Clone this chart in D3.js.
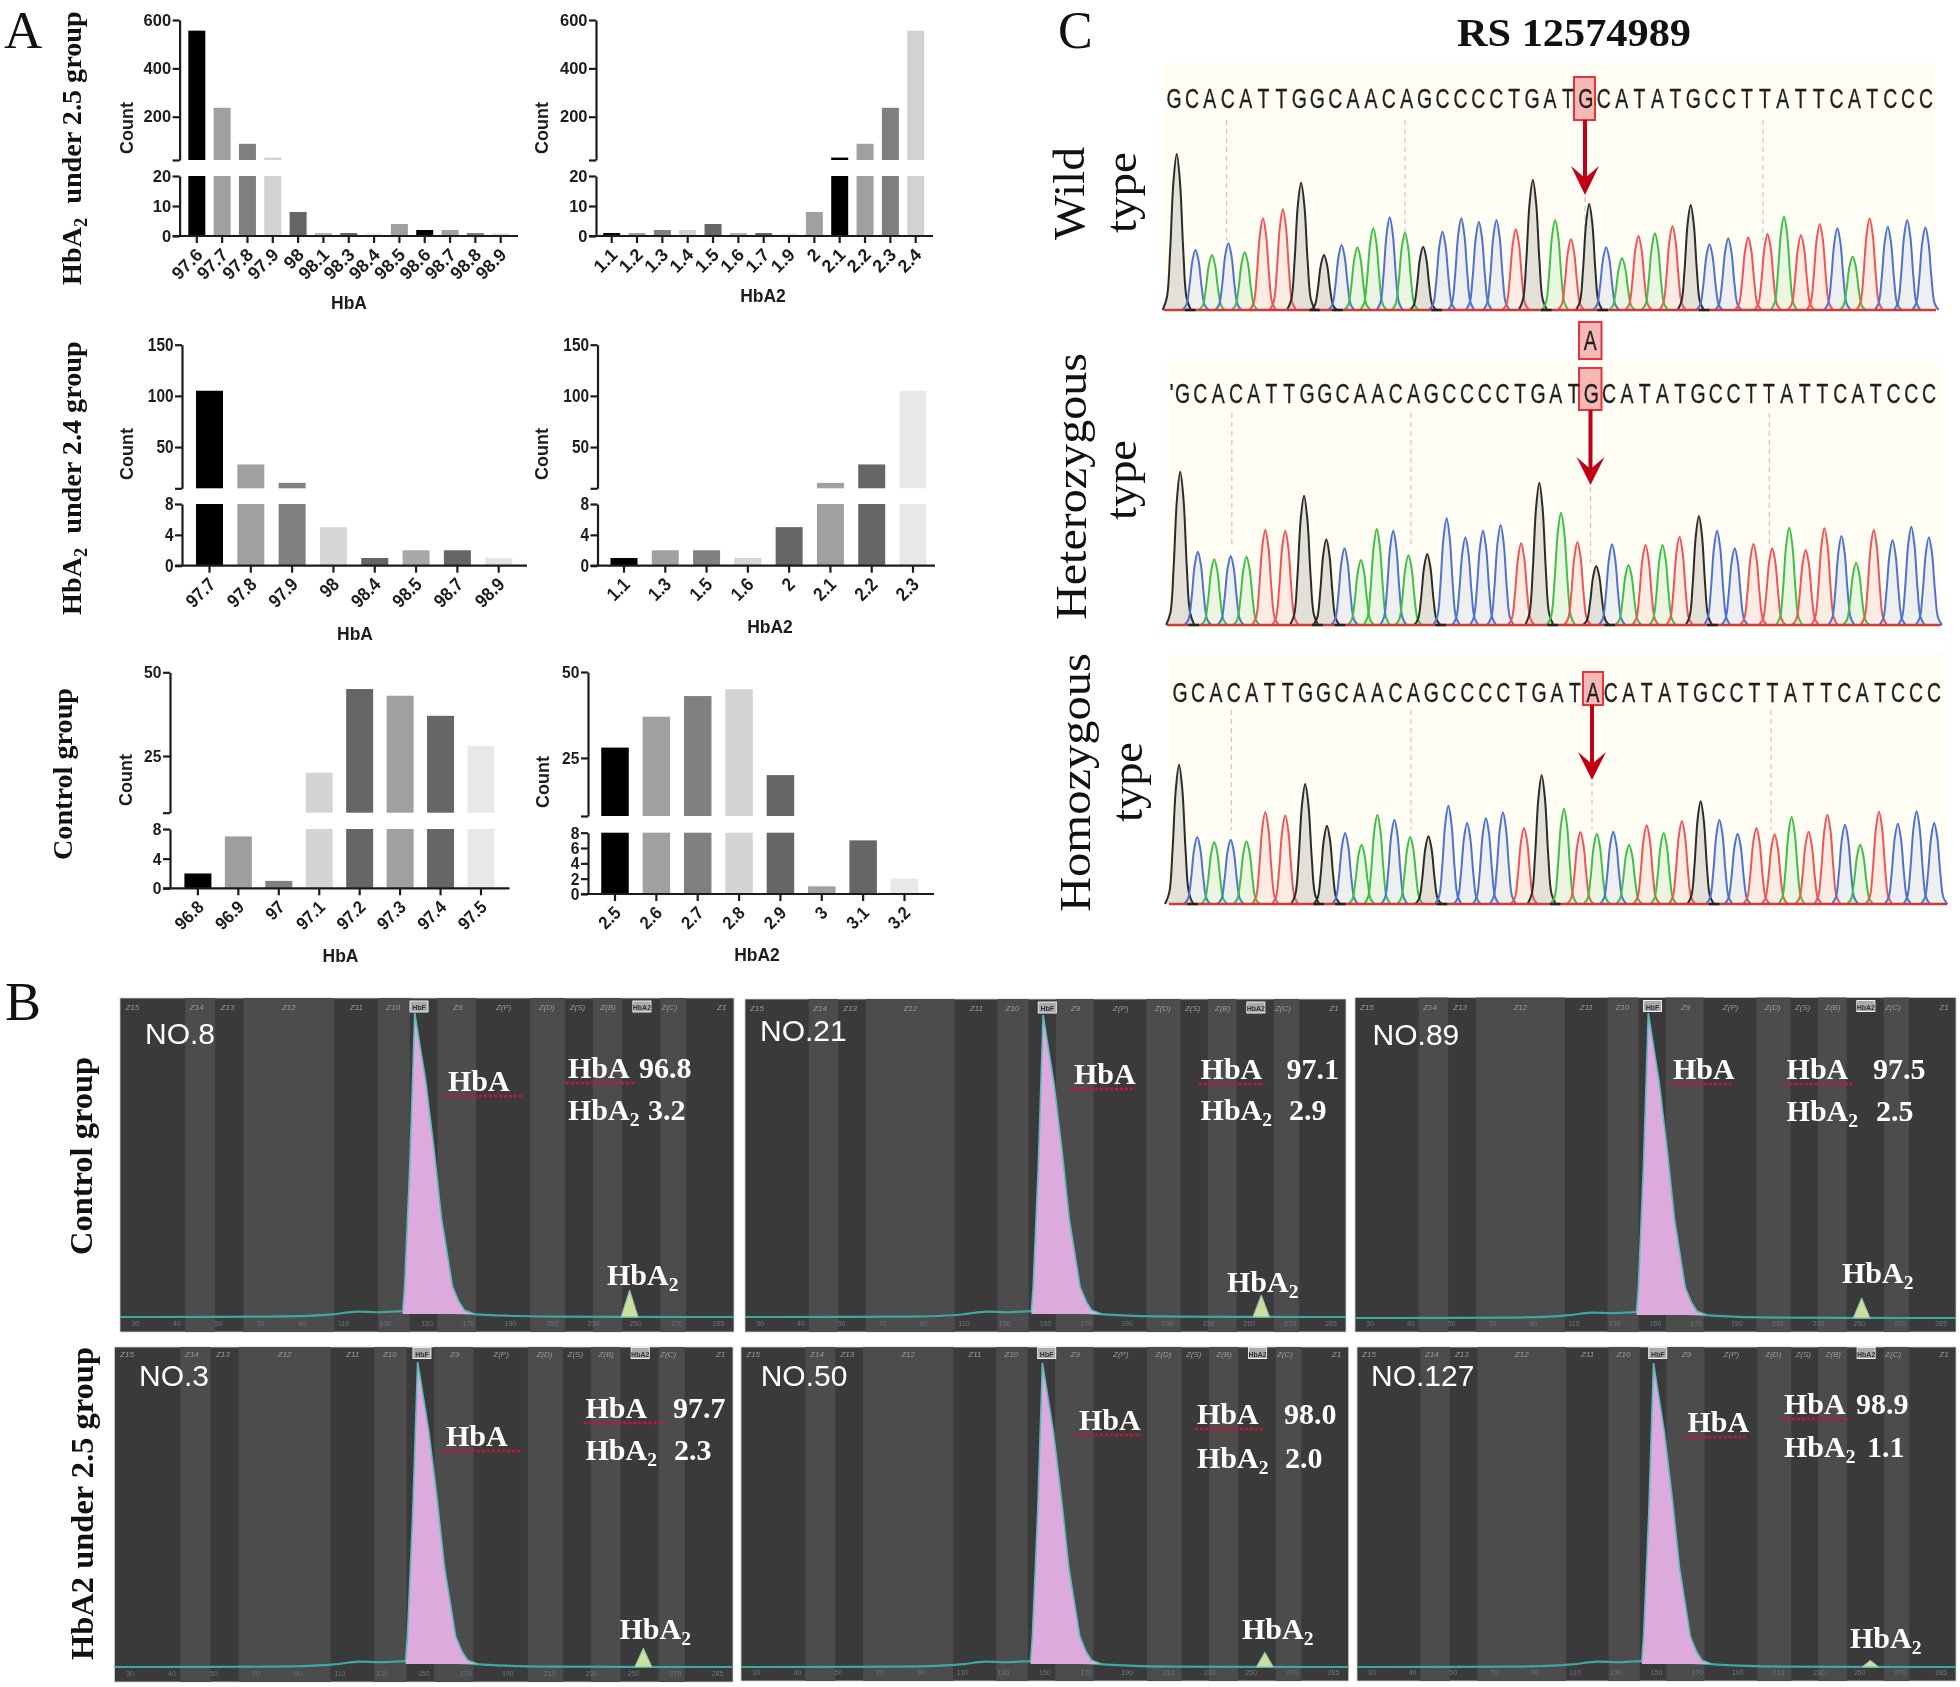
<!DOCTYPE html>
<html><head><meta charset="utf-8">
<script src="https://cdnjs.cloudflare.com/ajax/libs/d3/7.8.5/d3.min.js"></script>
<style>
html,body{margin:0;padding:0;background:#fff}
svg{display:block;filter:blur(0.45px)}
text{font-family:"Liberation Sans",Arial,sans-serif}
.serif{font-family:"Liberation Serif","Times New Roman",serif}
</style></head><body>
<svg id="fig" width="1960" height="1687" xmlns="http://www.w3.org/2000/svg"></svg>
<script>
// ---------- Panel A data ----------
const hbaCats1 = ["97.6","97.7","97.8","97.9","98","98.1","98.3","98.4","98.5","98.6","98.7","98.8","98.9"];
const hbaVals1 = [556,237,88,31,8,1,1,1,4,2,2,1,1];
const hbaCols1 = ["#000","#a0a0a4","#808080","#d2d2d2","#666","#b5b5b5","#666","#eee","#a0a0a0","#000","#a0a0a0","#808080","#e4e4e4"];
const a2Cats1 = ["1.1","1.2","1.3","1.4","1.5","1.6","1.7","1.9","2","2.1","2.2","2.3","2.4"];
const a2Vals1 = [1,1,2,2,4,1,1,1,8,31,88,237,556];
const a2Cols1 = ["#000","#a0a0a0","#808080","#d2d2d2","#666","#b5b5b5","#666","#eee","#a0a0a0","#000","#a0a0a4","#808080","#d2d2d2"];
const hbaCats2 = ["97.7","97.8","97.9","98","98.4","98.5","98.7","98.9"];
const hbaVals2 = [105,33,15,5,1,2,2,1];
const hbaCols2 = ["#000","#a0a0a0","#808080","#d6d6d6","#666","#a8a8a8","#666","#e4e4e4"];
const a2Cats2 = ["1.1","1.3","1.5","1.6","2","2.1","2.2","2.3"];
const a2Vals2 = [1,2,2,1,5,15,33,105];
const a2Cols2 = ["#000","#a0a0a0","#808080","#d6d6d6","#666","#a0a0a0","#666","#e8e8e8"];
const hbaCats3 = ["96.8","96.9","97","97.1","97.2","97.3","97.4","97.5"];
const hbaVals3 = [2,7,1,20,45,43,37,28];
const hbaCols3 = ["#000","#9e9e9e","#808080","#d4d4d4","#666","#a0a0a0","#666","#e8e8e8"];
const a2Cats3 = ["2.5","2.6","2.7","2.8","2.9","3","3.1","3.2"];
const a2Vals3 = [28,37,43,45,20,1,7,2];
const a2Cols3 = ["#000","#a0a0a0","#808080","#d4d4d4","#666","#a0a0a0","#666","#e8e8e8"];

// ---------- Panel C data (sequence, peak positions and heights) ----------
const seqRef = "GCACATTGGCAACAGCCCCTGATGCATATGCCTTATTCATCCC";
const seqHom = "GCACATTGGCAACAGCCCCTGATACATATGCCTTATTCATCCC";
const wildPos = [233,265,293,321,349,380,414,445,484,514,541,568,596,622,653,686,718,748,778,811,840,878,905,936,965,992,1020,1048,1078,1109,1141,1173,1207,1240,1268,1297,1329,1359,1385,1414,1445,1478,1509];
const wildH   = [468,180,165,200,173,275,302,382,165,195,188,245,278,232,190,235,275,265,270,242,390,270,212,318,188,155,222,230,252,315,197,215,218,228,280,225,258,245,160,275,250,270,248];
const hetPos  = [239,269,297,325,352,384,418,450,488,519,547,574,602,628,660,693,725,755,785,820,851,888,916,948,975,1003,1032,1061,1090,1123,1154,1184,1216,1248,1277,1305,1337,1366,1391,1421,1453,1485,1515];
const hetH    = [460,220,197,207,205,285,283,388,257,230,195,288,283,209,213,320,263,283,300,245,427,337,249,177,242,180,240,240,265,327,283,230,243,230,292,225,290,267,187,285,255,295,263];
const homPos  = [237,268,297,325,352,384,418,452,489,520,548,575,604,631,662,696,728,760,789,825,855,893,921,949,977,1004,1034,1063,1094,1126,1158,1189,1221,1252,1281,1310,1342,1372,1398,1430,1462,1494,1524];
const homH    = [418,201,186,193,188,276,266,360,235,213,178,268,253,201,203,295,243,258,275,228,386,286,216,211,217,178,236,213,249,308,253,211,228,209,261,217,268,238,178,277,241,278,243];
const baseColor = {G:"#2b2b2b",C:"#4f72cc",A:"#3fbf45",T:"#ee5555"};
const peakProfile = [[-1.5,0],[-1.05,.08],[-.7,.38],[-.35,.82],[0,1],[.35,.82],[.7,.38],[1.05,.08],[1.5,0]];

// ---------- Panel B data ----------
const sampleNames = ["NO.8","NO.21","NO.89","NO.3","NO.50","NO.127"];
const hbaPct  = ["96.8","97.1","97.5","97.7","98.0","98.9"];
const hba2Pct = ["3.2","2.9","2.5","2.3","2.0","1.1"];
const hba2Peak = [8.9,7.3,6.6,6.2,4.9,2.2];
const zoneEdges = [.106,.155,.201,.349,.42,.472,.517,.58,.668,.725,.77,.818,.88,.922];
const zoneNames = ["Z15","Z14","Z13","Z12","Z11","Z10","HbF","Z9","Z(P)","Z(D)","Z(S)","Z(B)","HbA2","Z(C)","Z1"];
const zoneLabelPos = [.02,.125,.175,.275,.385,.445,.487,.55,.625,.695,.745,.795,.85,.895,.98];
const timeLabels = ["30","40","50","70","90","110","130","150","170","190","210","230","250","270","285"];
const hbaShape = [[-.0195,2],[-.0165,10],[-.008,50],[0,100],[.018,77.5],[.0316,55],[.0435,32.6],[.0616,10],[.072,5],[.081,2.2],[.097,1]];
const baseTrace = [[0,0],[.28,0],[.35,.7],[.385,2.2],[.42,1.2],[.46,2.4],[.6,.6],[.66,0],[1,0]];

// ---------- Layout ----------
const svg = d3.select("#fig");
const barPanels = [
 {cats:hbaCats1,vals:hbaVals1,cols:hbaCols1,ax:179.6,first:196.8,last:500.7,bw:17,end:518,top:20,seg:160,lowTop:176,zero:236,maxU:600,brk:21,maxL:20,ticksU:[200,400,600],ticksL:[0,10,20],countX:127,countY:128,label:"HbA",lx:349,ly:309,fs:16.5,sx:1,tfs:18},
 {cats:a2Cats1,vals:a2Vals1,cols:a2Cols1,ax:596,first:611.7,last:915.7,bw:17,end:933,top:20,seg:160,lowTop:176,zero:236,maxU:600,brk:21,maxL:20,ticksU:[200,400,600],ticksL:[0,10,20],countX:542,countY:128,label:"HbA2",lx:763,ly:302,fs:16.5,sx:1,tfs:18},
 {cats:hbaCats2,vals:hbaVals2,cols:hbaCols2,ax:182,first:209.5,last:498.7,bw:27,end:527,top:344.7,seg:488.3,lowTop:504,zero:565.7,maxU:150,brk:9.7,maxL:8,ticksU:[50,100,150],ticksL:[0,4,8],countX:127,countY:454,label:"HbA",lx:355,ly:640,fs:17.5,sx:.88,tfs:19},
 {cats:a2Cats2,vals:a2Vals2,cols:a2Cols2,ax:597.5,first:624,last:913,bw:27,end:935,top:344.7,seg:488.3,lowTop:504,zero:565.7,maxU:150,brk:9.7,maxL:8,ticksU:[50,100,150],ticksL:[0,4,8],countX:542,countY:454,label:"HbA2",lx:770,ly:633,fs:17.5,sx:.88,tfs:19},
 {cats:hbaCats3,vals:hbaVals3,cols:hbaCols3,ax:170,first:197.9,last:481,bw:27,end:509.5,top:672.3,seg:812.7,lowTop:829,zero:888.3,maxU:50,brk:8.06,maxL:8,ticksU:[25,50],ticksL:[0,4,8],countX:126,countY:780,label:"HbA",lx:340.5,ly:962,fs:17,sx:.92,tfs:18},
 {cats:a2Cats3,vals:a2Vals3,cols:a2Cols3,ax:588,first:615,last:904.5,bw:27.5,end:934,top:672,seg:816,lowTop:832.7,zero:894,maxU:50,brk:8.1,maxL:8,ticksU:[25,50],ticksL:[0,2,4,6,8],countX:543,countY:782,label:"HbA2",lx:757,ly:961,fs:17,sx:.92,tfs:18}
];
function sx(p){return p.sx===1?"":` scale(${p.sx},1)`;}
barPanels.forEach(p=>{
  const g = svg.append("g");
  const step=(p.last-p.first)/(p.cats.length-1);
  const inner=1-p.bw/step;
  const x=d3.scaleBand().domain(p.cats).range([p.first-step/2,p.last+step/2]).paddingInner(inner).paddingOuter(inner/2);
  const yU=d3.scaleLinear().domain([p.brk,p.maxU]).range([p.seg,p.top]);
  const yL=d3.scaleLinear().domain([0,p.maxL]).range([p.zero,p.lowTop]);
  const rows=p.cats.map((c,i)=>({c,v:p.vals[i],col:p.cols[i]}));
  g.selectAll("rect.low").data(rows).join("rect").attr("class","low")
    .attr("x",d=>x(d.c)).attr("width",x.bandwidth())
    .attr("y",d=>yL(Math.min(d.v,p.maxL))).attr("height",d=>yL(0)-yL(Math.min(d.v,p.maxL))).attr("fill",d=>d.col);
  g.selectAll("rect.up").data(rows.filter(d=>d.v>p.brk)).join("rect").attr("class","up")
    .attr("x",d=>x(d.c)).attr("width",x.bandwidth())
    .attr("y",d=>yU(d.v)).attr("height",d=>yU(p.brk)-yU(d.v)).attr("fill",d=>d.col);
  const style=a=>{a.selectAll("path,line").attr("stroke","#1c1c1c").attr("stroke-width",2.2);
    a.selectAll("text").attr("font-weight","bold").attr("font-size",p.fs).attr("fill","#1c1c1c").attr("font-family","'Liberation Sans',Arial,sans-serif");};
  const aU=g.append("g").attr("transform",`translate(${p.ax},0)`)
    .call(d3.axisLeft(yU).tickValues([p.brk,...p.ticksU]).tickFormat(d=>d===p.brk?"":d).tickSize(7).tickSizeOuter(0).tickPadding(1.5));
  style(aU);
  const aL=g.append("g").attr("transform",`translate(${p.ax},0)`)
    .call(d3.axisLeft(yL).tickValues(p.ticksL).tickSize(7).tickSizeOuter(0).tickPadding(1.5));
  style(aL);
  [aU,aL].forEach(a=>a.selectAll(".tick text").attr("transform",`scale(${p.sx},1)`).attr("x",-8.5/p.sx));
  const aX=g.append("g").attr("transform",`translate(0,${p.zero})`).call(d3.axisBottom(x).tickSize(7).tickSizeOuter(0));
  aX.select(".domain").remove();
  style(aX);
  aX.selectAll(".tick text").attr("font-size",p.tfs).attr("text-anchor","end").attr("y",0).attr("dy",0)
    .attr("transform",`translate(7,20) rotate(-45)${sx(p)}`);
  g.append("line").attr("x1",p.ax-7).attr("x2",p.end).attr("y1",p.zero).attr("y2",p.zero).attr("stroke","#1c1c1c").attr("stroke-width",2.2);
  g.append("text").text("Count").attr("font-weight","bold").attr("font-size",18).attr("fill","#1c1c1c")
    .attr("text-anchor","middle").attr("transform",`translate(${p.countX+6},${p.countY}) rotate(-90)`);
  g.append("text").text(p.label).attr("font-weight","bold").attr("font-size",17.5).attr("fill","#1c1c1c")
    .attr("text-anchor","middle").attr("x",p.lx).attr("y",p.ly);
});

// ---------- helpers ----------
function serif(parent,x,y,opts){
  const t=parent.append("text").attr("class","serif").attr("x",x).attr("y",y)
    .attr("font-size",opts.size).attr("font-weight",opts.bold?"bold":"normal").attr("fill",opts.fill||"#111");
  if(opts.rot) t.attr("x",0).attr("y",0).attr("transform",`translate(${x},${y}) rotate(-90)`);
  if(opts.len) t.attr("textLength",opts.len).attr("lengthAdjust","spacingAndGlyphs");
  return t;
}
function hba2(t,rest){ // HbA with subscript 2, then following text
  t.append("tspan").text("HbA");
  t.append("tspan").text("2").attr("font-size","65%").attr("dy","0.3em");
  if(rest) t.append("tspan").text(rest).attr("dy","-0.195em");
}
// panel letters and group titles
serif(svg,4,48,{size:53}).text("A");
serif(svg,5,1020,{size:54}).text("B");
serif(svg,1058,47.5,{size:52}).text("C");
serif(svg,1457,46,{size:40,bold:true,len:234}).text("RS 12574989");
hba2(serif(svg,81,285,{size:28.2,bold:true,rot:true})," \u00a0under 2.5 group");
hba2(serif(svg,81,615,{size:28.2,bold:true,rot:true})," \u00a0under 2.4 group");
serif(svg,72,860,{size:27,bold:true,rot:true,len:172}).text("Control group");
serif(svg,92,1255,{size:32,bold:true,rot:true,len:198}).text("Control group");
serif(svg,92.7,1660,{size:32,bold:true,rot:true,len:313}).text("HbA2 under 2.5 group");
serif(svg,1084,240,{size:44,rot:true,len:93}).text("Wild");
serif(svg,1136,233,{size:44,rot:true,len:81}).text("type");
serif(svg,1086,620,{size:44,rot:true,len:267}).text("Heterozygous");
serif(svg,1136,520,{size:44,rot:true,len:80}).text("type");
serif(svg,1090,912,{size:44,rot:true,len:259}).text("Homozygous");
serif(svg,1142,822,{size:44,rot:true,len:80}).text("type");

// ---------- Panel C ----------
const traces=[
 {seq:seqRef,pos:wildPos,h:wildH,bg:[1164,63,772,249],base:310,l0:1174,l1:1926,ly:98,box:[1574,77,21,43],arrowX:1585,tip:195,headTop:166,dash:[318,622,1232],dashY:[120,240],dashArrow:[197,235]},
 {seq:seqRef,pos:hetPos,h:hetH,bg:[1167,358,774,270],base:625,l0:1182.6,l1:1929,ly:392.5,box:[1579,368,22.5,42],arrowX:1590.5,tip:485,headTop:457,dash:[327,632,1243],dashY:[413,547],dashArrow:[487,563],extra:[1579,322,22.5,37],lead:true},
 {seq:seqHom,pos:homPos,h:homH,bg:[1169,653,778,254],base:904,l0:1180,l1:1934,ly:691.5,box:[1583,672,20,33],arrowX:1592,tip:780,headTop:752,dash:[326,632,1246],dashY:[710,830],dashArrow:[782,830]}
];
const xTrace=d3.scaleLinear().domain([0,1568]).range([1040,1960]);
traces.forEach(t=>{
  const g=svg.append("g");
  g.append("rect").attr("x",t.bg[0]).attr("y",t.bg[1]).attr("width",t.bg[2]).attr("height",t.bg[3]).attr("fill","#fffdf4");
  const yT=d3.scaleLinear().domain([0,300]).range([t.base,t.base-100]);
  g.selectAll("line.grid").data(t.dash).join("line").attr("x1",d=>xTrace(d)).attr("x2",d=>xTrace(d))
    .attr("y1",t.dashY[0]).attr("y2",t.dashY[1]).attr("stroke","#c8c8c8").attr("stroke-width",1.2).attr("stroke-dasharray","5 4");
  g.append("line").attr("x1",t.arrowX).attr("x2",t.arrowX).attr("y1",t.dashArrow[0]).attr("y2",t.dashArrow[1])
    .attr("stroke","#c8c8c8").attr("stroke-width",1.2).attr("stroke-dasharray","5 4");
  const peaks=t.pos.map((p,i)=>({p,h:t.h[i],b:t.seq[i]}));
  const line=d3.line().x(d=>d[0]).y(d=>d[1]).curve(d3.curveCatmullRom.alpha(.5));
  const pts=d=>{const w=Math.max(15,d.h>330?16:15);return peakProfile.map(q=>[xTrace(d.p+q[0]*w),yT(d.h*q[1])]);};
  g.selectAll("path.fill").data(peaks).join("path").attr("d",d=>line(pts(d))+"Z")
    .attr("fill",d=>d.b==="G"?"#8a8a80":baseColor[d.b]).attr("fill-opacity",d=>d.b==="G"?.25:.1).attr("stroke","none");
  g.selectAll("path.peak").data(peaks).join("path").attr("d",d=>line(pts(d)))
    .attr("fill","none").attr("stroke",d=>baseColor[d.b]).attr("stroke-width",2);
  g.append("line").attr("x1",t.bg[0]).attr("x2",t.bg[0]+t.bg[2]).attr("y1",t.base).attr("y2",t.base).attr("stroke","#cf3a3a").attr("stroke-width",2.6);
  g.selectAll("line.dark").data(peaks.filter(d=>d.b==="G")).join("line")
    .attr("x1",d=>xTrace(d.p+14)).attr("x2",d=>xTrace(d.p+32)).attr("y1",t.base).attr("y2",t.base).attr("stroke","#222").attr("stroke-width",2.4);
  // highlight boxes
  [t.box,t.extra].filter(Boolean).forEach(b=>g.append("rect").attr("x",b[0]).attr("y",b[1]).attr("width",b[2]).attr("height",b[3])
    .attr("fill","#f08a8a").attr("fill-opacity",.6).attr("stroke","#e8323c").attr("stroke-width",2));
  // letters
  const xL=d3.scalePoint().domain(d3.range(t.seq.length)).range([t.l0,t.l1]);
  g.selectAll("text.base").data(t.seq.split("")).join("text").text(d=>d).attr("font-size",27).attr("fill","#1f1f1f")
    .attr("stroke","#1f1f1f").attr("stroke-width",.35)
    .attr("text-anchor","middle").attr("transform",(d,i)=>`translate(${xL(i)},${t.ly+10}) scale(.72,1)`);
  if(t.lead) g.append("text").text("'").attr("font-size",27).attr("fill","#1f1f1f").attr("text-anchor","middle")
    .attr("x",t.l0-11).attr("y",t.ly+10);
  if(t.extra) g.append("text").text("A").attr("font-size",27).attr("fill","#1f1f1f").attr("stroke","#1f1f1f").attr("stroke-width",.35).attr("text-anchor","middle")
    .attr("transform",`translate(${t.extra[0]+t.extra[2]/2},${t.extra[1]+28}) scale(.72,1)`);
  // arrow
  const ax=t.arrowX;
  g.append("line").attr("x1",ax).attr("x2",ax).attr("y1",t.box[1]+t.box[3]).attr("y2",t.tip-8).attr("stroke","#c00014").attr("stroke-width",4);
  g.append("path").attr("d",d3.line()([[ax-14,t.headTop],[ax,t.headTop+12],[ax+14,t.headTop],[ax,t.tip]])+"Z").attr("fill","#c00014");
});

// ---------- Panel B ----------
const bLayout=[
 {x0:120,x1:734,y0:998,y1:1332,base:1317,apexY:1013,apexF:.48,smallF:.83,noX:145,noY:1044,zY:12,hX:448,hY:1091,tX:568,vX:639,v2X:648,tY:1078,t2Y:1120,sX:607,sY:1285,ulW:82,ulA:68},
 {x0:745,x1:1346,y0:999,y1:1332,base:1317,apexY:1015,apexF:.496,smallF:.859,noX:760,noY:1041,zY:12,hX:1074,hY:1084,tX:1200.6,vX:1286.5,v2X:1289,tY:1079,t2Y:1120,sX:1227,sY:1292,ulW:68,ulA:66},
 {x0:1355,x1:1956,y0:997.5,y1:1332,base:1318,apexY:1013,apexF:.488,smallF:.843,noX:1372.6,noY:1045,zY:12,hX:1673,hY:1079,tX:1786.6,vX:1873,v2X:1876,tY:1079,t2Y:1121,sX:1842,sY:1283,ulW:66,ulA:68},
 {x0:114.6,x1:733,y0:1347,y1:1682,base:1667,apexY:1362,apexF:.49,smallF:.855,noX:139,noY:1386,zY:9.5,hX:446,hY:1446,tX:585.5,vX:673,v2X:674,tY:1418,t2Y:1460,sX:619.5,sY:1639,ulW:82,ulA:82},
 {x0:741,x1:1348.7,y0:1347,y1:1681,base:1667,apexY:1363,apexF:.496,smallF:.862,noX:760.7,noY:1386,zY:9.5,hX:1079,hY:1430,tX:1197,vX:1284,v2X:1285,tY:1424,t2Y:1468,sX:1242,sY:1639,ulW:70,ulA:70},
 {x0:1357,x1:1956,y0:1347,y1:1681,base:1667,apexY:1363,apexF:.495,smallF:.857,noX:1371,noY:1386,zY:9.5,hX:1687.5,hY:1432,tX:1784,vX:1856,v2X:1867,tY:1414,t2Y:1457,sX:1850,sY:1648,ulW:66,ulA:66}
];
bLayout.forEach((L,i)=>{
  const g=svg.append("g");
  const xF=d3.scaleLinear().domain([0,1]).range([L.x0,L.x1]);
  const yP=d3.scaleLinear().domain([0,100]).range([L.base,L.apexY]);
  g.append("rect").attr("x",L.x0).attr("y",L.y0).attr("width",L.x1-L.x0).attr("height",L.y1-L.y0).attr("fill","#3a3a3a").attr("stroke","#cfcfcf").attr("stroke-width",.8);
  const edges=[0,...zoneEdges,1];
  g.selectAll("rect.zone").data(d3.pairs(edges).filter((d,k)=>k%2===1)).join("rect")
    .attr("x",d=>xF(d[0])).attr("width",d=>xF(d[1])-xF(d[0])).attr("y",L.y0).attr("height",L.y1-L.y0).attr("fill","#4c4c4c");
  // zone names
  zoneNames.forEach((n,k)=>{
    const boxed=(k===6||k===12), cx=xF(zoneLabelPos[k]+(boxed&&k===6?L.apexF-.48:0));
    if(boxed) g.append("rect").attr("x",cx-9).attr("y",L.y0+L.zY-9).attr("width",18).attr("height",11).attr("fill","#aaa").attr("stroke","#eee").attr("stroke-width",1);
    g.append("text").text(n).attr("x",cx).attr("y",L.y0+L.zY).attr("text-anchor","middle")
      .attr("font-size",boxed?7:8).attr("font-style",boxed?"normal":"italic").attr("font-weight",boxed?"bold":"normal").attr("fill",boxed?"#333":"#999");
  });
  // time axis labels
  const xN=d3.scalePoint().domain(timeLabels).range([xF(.025),xF(.975)]);
  timeLabels.forEach(n=>g.append("text").text(n).attr("x",xN(n)).attr("y",L.y1-6).attr("text-anchor","middle").attr("font-size",7).attr("fill","#69767f"));
  // baseline trace
  const shift=L.apexF-.48;
  g.append("path").attr("d",d3.line().x(d=>xF(d[0]===0||d[0]===1?d[0]:d[0]+shift)).y(d=>yP(d[1])).curve(d3.curveBasis)(baseTrace))
    .attr("fill","none").attr("stroke","#3fa6a2").attr("stroke-width",2.2);
  // HbA peak
  const aPeak=d3.area().x(d=>xF(L.apexF+d[0])).y0(yP(1)).y1(d=>yP(d[1]));
  g.append("path").attr("d",aPeak(hbaShape)).attr("fill","#dcaadc");
  g.append("path").attr("d",d3.line().x(d=>xF(L.apexF+d[0])).y(d=>yP(d[1]))(hbaShape)).attr("fill","none").attr("stroke","#5fb9bd").attr("stroke-width",1.6);
  // HbA2 peak
  const sm=[[-.014,0],[0,hba2Peak[i]],[.014,0]];
  g.append("path").attr("d",d3.line().x(d=>xF(L.smallF+d[0])).y(d=>yP(d[1]))(sm)+"Z").attr("fill","#cddf9e").attr("stroke","#7fc0b0").attr("stroke-width",1);
  // labels
  g.append("text").text(sampleNames[i]).attr("x",L.noX).attr("y",L.noY).attr("font-size",30).attr("fill","#fff");
  const w={size:30,bold:true,fill:"#fff"};
  serif(g,L.hX,L.hY,w).text("HbA");
  serif(g,L.tX,L.tY,w).text("HbA");
  serif(g,L.vX,L.tY,w).text(hbaPct[i]);
  hba2(serif(g,L.tX,L.t2Y,w));
  serif(g,L.v2X,L.t2Y,w).text(hba2Pct[i]);
  hba2(serif(g,L.sX,L.sY,w));
  g.append("line").attr("x1",L.hX-4).attr("x2",L.hX+L.ulW-8).attr("y1",L.hY+5).attr("y2",L.hY+5).attr("stroke","#d01038").attr("stroke-width",2.4).attr("stroke-dasharray","3 2");
  g.append("line").attr("x1",L.tX-2).attr("x2",L.tX+L.ulA-2).attr("y1",L.tY+5).attr("y2",L.tY+5).attr("stroke","#d01038").attr("stroke-width",2.4).attr("stroke-dasharray","3 2");
});
</script></body></html>
